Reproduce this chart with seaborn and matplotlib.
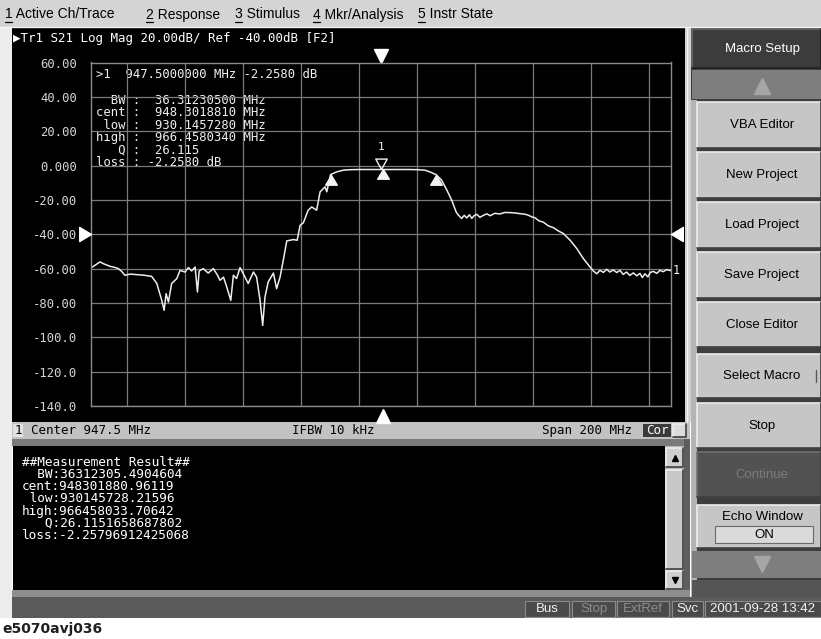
import numpy as np
import pandas as pd
import matplotlib
matplotlib.use("Agg")
import matplotlib.pyplot as plt
import seaborn as sns
from matplotlib.patches import Rectangle
from matplotlib.path import Path

sns.set_theme(style="dark")
plt.rcParams['font.family'] = ['DejaVu Sans']

# ------------------------------
# Data
# ------------------------------
freq_mhz = [
    847.5, 848.5, 850.6, 852.0, 854.1, 855.5, 856.9, 858.0, 859.2, 861.0,
    863.3, 865.5, 868.4, 870.2, 871.9, 872.7, 873.4, 874.2, 875.3, 877.1,
    878.2, 879.9, 881.1, 882.2, 883.4, 884.2, 884.8, 886.2, 887.9, 889.7,
    891.0, 892.0, 893.2, 894.3, 895.7, 896.6, 897.7, 898.9, 900.6, 901.7,
    903.5, 904.6, 905.8, 906.7, 907.5, 908.6, 910.4, 911.5, 912.7, 913.8,
    915.0, 917.3, 918.6, 919.6, 920.7, 922.4, 923.6, 925.3, 926.5, 928.2,
    928.8, 930.1, 932.2, 934.5, 937.0, 940.0, 944.0, 947.5, 952.0, 957.0,
    960.0, 962.7, 964.5, 966.5, 968.4, 970.2, 971.9, 973.4, 974.2, 975.3,
    976.2, 977.1, 978.0, 978.8, 979.6, 980.5, 981.6, 982.8, 984.0, 985.1,
    986.8, 988.5, 990.2, 992.0, 993.7, 995.4, 997.0, 998.3, 999.5, 1000.6,
    1002.0, 1003.5, 1005.2, 1006.9, 1008.6, 1010.4, 1012.7, 1015.0, 1017.3, 1019.6,
    1020.8, 1021.9, 1023.0, 1024.2, 1025.3, 1026.4, 1027.6, 1028.8, 1029.9, 1031.0,
    1032.2, 1033.3, 1034.5, 1035.7, 1036.8, 1037.6, 1038.5, 1039.5, 1040.4, 1041.4,
    1042.6, 1043.7, 1044.8, 1046.0, 1047.4,
]
s21_db = [
    -59.5, -58.5, -56.1, -57.3, -58.7, -59.2, -60.0, -61.5, -63.9, -63.2,
    -63.5, -63.8, -64.5, -68.7, -78.5, -84.3, -74.6, -79.5, -68.7, -65.8,
    -61.0, -62.0, -59.4, -61.4, -59.1, -73.6, -61.4, -60.0, -62.6, -60.0,
    -63.5, -66.8, -65.0, -70.7, -78.5, -63.9, -65.8, -59.4, -64.9, -68.7,
    -62.0, -64.9, -78.5, -93.1, -76.5, -67.8, -62.6, -71.7, -64.9, -55.2,
    -43.9, -43.1, -43.5, -34.8, -33.4, -26.0, -24.1, -26.0, -15.3, -12.4,
    -15.3, -5.3, -3.7, -2.7, -2.4, -2.3, -2.3, -2.26, -2.3, -2.3,
    -2.4, -2.7, -3.8, -5.3, -8.5, -14.3, -20.2, -27.0, -28.9, -30.8,
    -29.0, -30.5, -28.6, -30.8, -29.2, -28.4, -30.1, -29.0, -28.1, -29.2,
    -27.8, -28.2, -27.3, -27.4, -27.6, -28.0, -28.3, -28.9, -29.9, -30.4,
    -32.2, -33.0, -35.1, -36.1, -38.0, -39.6, -43.5, -48.3, -54.2, -59.1,
    -61.5, -63.0, -61.0, -62.2, -60.4, -62.0, -60.8, -62.3, -61.0, -63.4,
    -62.0, -64.0, -62.5, -64.2, -62.8, -65.2, -63.0, -64.8, -62.2, -61.6,
    -62.8, -61.0, -61.8, -60.6, -61.2,
]

# bandwidth search markers: low, cent, high (MHz) and active marker 1
bw_marker_freq = [930.1457280, 948.3018810, 966.4580340]
bw_marker_db = [-5.258, -2.258, -5.258]
mkr1_freq = 947.5
mkr1_db = -2.2580
ref_level = -40.0
center_mhz = 947.5
span_mhz = 200.0

y_tick_values = [60, 40, 20, 0, -20, -40, -60, -80, -100, -120, -140]
y_tick_labels = ["60.00", "40.00", "20.00", "0.000", "-20.00", "-40.00",
                 "-60.00", "-80.00", "-100.0", "-120.0", "-140.0"]
x_grid = [860, 880, 900, 920, 940, 960, 980, 1000, 1020, 1040]

header_text = "\u25b6Tr1 S21 Log Mag 20.00dB/ Ref -40.00dB [F2]"
readout_lines = [
    ">1  947.5000000 MHz -2.2580 dB",
]
stat_lines = [
    "  BW :  36.31230500 MHz",
    "cent :  948.3018810 MHz",
    " low :  930.1457280 MHz",
    "high :  966.4580340 MHz",
    "   Q :  26.115",
    "loss : -2.2580 dB",
]
echo_lines = [
    "##Measurement Result##",
    "  BW:36312305.4904604",
    "cent:948301880.96119",
    " low:930145728.21596",
    "high:966458033.70642",
    "   Q:26.1151658687802",
    "loss:-2.25796912425068",
]
menu_items = ["1 Active Ch/Trace", "2 Response", "3 Stimulus", "4 Mkr/Analysis", "5 Instr State"]
menu_x = [5, 146, 235, 313, 418]
softkeys = ["VBA Editor", "New Project", "Load Project", "Save Project",
            "Close Editor", "Select Macro", "Stop", "Continue"]
softkey_y = [(102, 148), (152, 198), (202, 248), (252, 298),
             (302, 347), (354, 398), (403, 448), (452, 497)]
status_boxes = ["Bus", "Stop", "ExtRef", "Svc", "2001-09-28 13:42"]
status_box_x = [(525, 569), (572, 615), (617, 669), (672, 703), (705, 821)]
status_box_on = [True, False, False, True, True]

trace_df = pd.DataFrame({"freq_mhz": freq_mhz, "s21_db": s21_db})

# ------------------------------
# Figure + pixel background layer
# ------------------------------
W, H = 821, 639
fig = plt.figure(figsize=(W / 100, H / 100), dpi=100)
bg = fig.add_axes([0, 0, 1, 1])
bg.set_xlim(0, W)
bg.set_ylim(H, 0)
bg.axis("off")
MONO = ["DejaVu Sans Mono", "DejaVu Sans"]
SANS = ["Liberation Sans", "DejaVu Sans"]


def rect(x0, y0, x1, y1, fc, ec="none", lw=0, z=1):
    bg.add_patch(Rectangle((x0, y0), x1 - x0, y1 - y0, facecolor=fc,
                           edgecolor=ec, linewidth=lw, zorder=z))


def bevel(x0, y0, x1, y1, fc, light="#eeeeee", dark="#404040"):
    rect(x0, y0, x1, y1, fc)
    bg.plot([x0, x0, x1], [y1, y0, y0], color=light, lw=1.2, zorder=2)
    bg.plot([x0, x1, x1], [y1, y1, y0], color=dark, lw=1.2, zorder=2)


def txt(x, y, s, size=9, color="black", family=SANS, ha="left", weight="normal"):
    bg.text(x, y, s, fontsize=size, color=color, family=family, ha=ha,
            va="center", weight=weight, zorder=5)


rect(0, 0, W, H, "white", z=0)
# menu bar
rect(0, 0, W, 27, "#d4d4d4")
bg.plot([0, W], [27, 27], color="#f4f4f4", lw=1, zorder=2)
for label, x in zip(menu_items, menu_x):
    txt(x, 14.5, label, size=10)
    bg.plot([x, x + 6.5], [21.5, 21.5], color="black", lw=0.9, zorder=5)
rect(0, 28, 12, 618, "#ececec")

# trace window
rect(12, 28, 685, 422, "black")
rect(685, 28, 691, 422, "#cfcfcf")
bg.plot([686.5, 686.5], [28, 422], color="#f0f0f0", lw=1, zorder=2)
txt(13, 38.5, header_text, size=9, color="white", family=MONO)
for i, line in enumerate(readout_lines):
    txt(96, 74 + i * 12.5, line, size=8.8, color="#f0f0f0", family=MONO)
for i, line in enumerate(stat_lines):
    txt(96, 100 + i * 12.6, line, size=8.8, color="#f0f0f0", family=MONO)

# channel status bar
rect(12, 422, 690, 439, "#c2c2c2")
rect(13, 424, 23, 437, "#e2e2e2")
txt(15, 430.5, "1", size=9, family=MONO)
txt(31, 430.5, "Center %.1f MHz" % center_mhz, size=9, family=MONO)
txt(333, 430.5, "IFBW 10 kHz", size=9, family=MONO, ha="center")
txt(542, 430.5, "Span %d MHz" % span_mhz, size=9, family=MONO)
rect(643, 424, 671, 437, "#3a3a3a")
txt(657, 430.5, "Cor", size=9, family=MONO, color="white", ha="center")
bevel(673, 424, 686, 437, "#dcdcdc")

# echo window
rect(12, 439, 690, 446, "#7a7a7a")
rect(13, 446, 665, 590, "black")
rect(665, 446, 684, 590, "#b8b8b8")
bevel(666, 448, 683, 467, "#cfcfcf")
bevel(666, 470, 683, 569, "#c8c8c8")
bevel(666, 571, 683, 589, "#cfcfcf")
bg.plot([674.5], [457.5], marker="^", ms=4, color="black", zorder=6)
bg.plot([674.5], [580], marker="v", ms=4, color="black", zorder=6)
rect(684, 439, 690, 597, "#5e5e5e")
for i, line in enumerate(echo_lines):
    txt(22, 462 + i * 12.3, line, size=9.2, color="white", family=MONO)
rect(12, 590, 690, 597, "#8e8e8e")

# instrument status bar
rect(12, 597, W, 618, "#5a5a5a")
for label, (x0, x1), on in zip(status_boxes, status_box_x, status_box_on):
    rect(x0, 601, x1, 617, "#4a4a4a", ec="#8a8a8a", lw=0.8, z=2)
    txt((x0 + x1) / 2, 609, label, size=9.5,
        color="#f2f2f2" if on else "#8c8c8c", ha="center")
txt(2, 629, "e5070avj036", size=10, color="#202020", weight="bold",
    family=["DejaVu Sans"])

# softkey panel
rect(691, 28, W, 597, "#3e3e3e")
rect(691, 100, 697, 597, "#b4b4b4")
bevel(692, 29, W, 68, "#3c3c3c", light="#6a6a6a", dark="#202020")
txt(762, 49, "Macro Setup", size=9.5, color="white", ha="center")
rect(692, 70, W, 99, "#7e7e7e")
bg.plot([762], [86], marker="^", ms=11, color="#a6a6a6", zorder=3)
for label, (y0, y1) in zip(softkeys, softkey_y):
    on = label != "Continue"
    bevel(697, y0, W, y1, "#c6c6c6" if on else "#525252",
          light="#ececec" if on else "#707070")
    txt(762, (y0 + y1) / 2, label, size=9.5,
        color="black" if on else "#7c7c7c", ha="center")
bg.plot([816, 816], [370, 382], color="#5a5a5a", lw=1, zorder=5)
bevel(697, 505, W, 548, "#c6c6c6")
txt(762, 517, "Echo Window", size=9.5, ha="center")
rect(715, 526, 813, 543, "#dadada", ec="#6a6a6a", lw=0.8, z=3)
txt(764, 534.5, "ON", size=9.5, ha="center")
rect(692, 551, W, 578, "#7e7e7e")
bg.plot([762], [564], marker="v", ms=11, color="#a6a6a6", zorder=3)
rect(692, 580, W, 597, "#555555")

# ------------------------------
# Trace axes
# ------------------------------
x0, x1, yt, yb = 91, 671, 62.5, 406
ax = fig.add_axes([x0 / W, 1 - yb / H, (x1 - x0) / W, (yb - yt) / H])
ax.set_facecolor("none")
sns.lineplot(data=trace_df, x="freq_mhz", y="s21_db", ax=ax, color="#ededed",
             lw=1.1, estimator=None, sort=False)
ax.set_xlim(center_mhz - span_mhz / 2, center_mhz + span_mhz / 2)
ax.set_ylim(-140, 60)
ax.set_xticks(x_grid)
ax.set_xticklabels([])
ax.set_yticks(y_tick_values, labels=y_tick_labels)
ax.tick_params(axis="both", length=0)
ax.tick_params(axis="y", pad=10, labelcolor="#d4d4d4", labelsize=8.8)
for lbl in ax.get_yticklabels():
    lbl.set_fontfamily(MONO)
ax.grid(True, color="#7a7a7a", lw=0.9)
for sp in ax.spines.values():
    sp.set_color("#8a8a8a")
    sp.set_linewidth(1.0)
ax.set_xlabel("")
ax.set_ylabel("")

tri_up = Path([(0, 0), (-0.6, -1), (0.6, -1), (0, 0)])
tri_down_open = Path([(0, 0), (-0.55, 1), (0.55, 1), (0, 0)])
tri_right = Path([(0, 0), (-1, 0.6), (-1, -0.6), (0, 0)])
tri_left = Path([(0, 0), (1, 0.6), (1, -0.6), (0, 0)])

ax.plot(bw_marker_freq, bw_marker_db, ls="none", marker=tri_up, ms=14,
        color="#f2f2f2", mec="#f2f2f2", clip_on=False, zorder=4)
ax.plot([mkr1_freq], [mkr1_db], ls="none", marker=tri_down_open, ms=15,
        mfc="none", mec="#f2f2f2", mew=1, clip_on=False, zorder=4)
ax.annotate("1", (mkr1_freq, mkr1_db), xytext=(0, 16), textcoords="offset points",
            ha="center", va="center", color="#f2f2f2", fontsize=8, family=MONO)
ax.plot([ax.get_xlim()[0]], [ref_level], ls="none", marker=tri_right, ms=17,
        color="white", clip_on=False, zorder=4)
ax.plot([ax.get_xlim()[1]], [ref_level], ls="none", marker=tri_left, ms=17,
        color="white", clip_on=False, zorder=4)
ax.annotate("1", (ax.get_xlim()[1], s21_db[-1]), xytext=(1.5, 0),
            textcoords="offset points", ha="left", va="center",
            color="#f2f2f2", fontsize=8.5, family=MONO, annotation_clip=False)
xt = ax.get_xaxis_transform()
ax.plot([center_mhz], [1.018], transform=xt, marker="v", ms=10, color="white",
        clip_on=False)
ax.plot([center_mhz + 0.7], [-0.03], transform=xt, marker="^", ms=10,
        color="white", clip_on=False)

fig.savefig("out.png", dpi=100)
